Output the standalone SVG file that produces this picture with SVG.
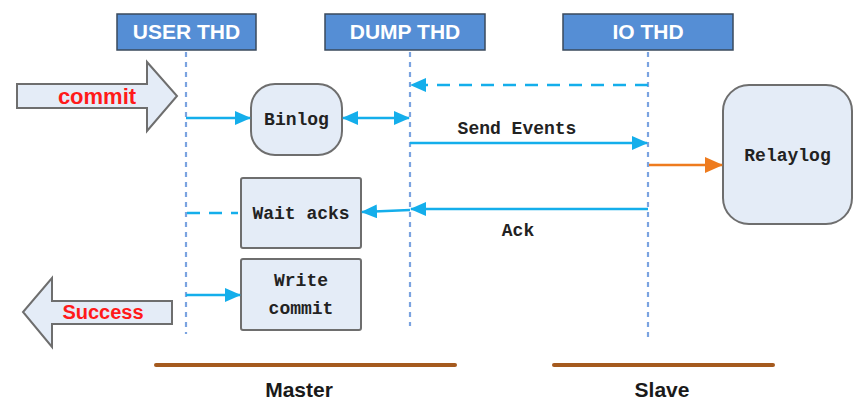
<svg xmlns="http://www.w3.org/2000/svg" width="866" height="412" viewBox="0 0 866 412">
<defs>
<style>
.hdr{fill:#558ED5;stroke:#3A4A5C;stroke-width:1.5}
.hdrt{font-family:"Liberation Sans",Arial,sans-serif;font-weight:bold;font-size:21px;fill:#FFFFFF;text-anchor:middle}
.life{stroke:#7BA3E0;stroke-width:2.2;stroke-dasharray:5 5;fill:none}
.box{fill:#E4ECF7;stroke:#6E6E6E;stroke-width:2}
.nt{font-family:"Liberation Mono","Courier New",monospace;font-weight:bold;font-size:18px;fill:#222;text-anchor:middle}
.msg{stroke:#14AEEB;stroke-width:2.5;fill:none}
.dash{stroke-dasharray:13 9}
.big{fill:#E4ECF7;stroke:#6E6E6E;stroke-width:2}
.red{font-family:"Liberation Sans",Arial,sans-serif;font-weight:bold;fill:#FF1A1A;text-anchor:middle}
.base{stroke:#A55A1E;stroke-width:4;stroke-linecap:round}
.lbl{font-family:"Liberation Sans",Arial,sans-serif;font-weight:bold;font-size:21px;fill:#1A1A1A;text-anchor:middle}
</style>
<marker id="ab" markerUnits="userSpaceOnUse" markerWidth="16" markerHeight="14" refX="15" refY="7" orient="auto-start-reverse"><path d="M0,0 L16,7 L0,14 Z" fill="#14AEEB"/></marker>
<marker id="ao" markerUnits="userSpaceOnUse" markerWidth="18" markerHeight="16" refX="17" refY="8" orient="auto"><path d="M0,0 L18,8 L0,16 Z" fill="#EE7B1E"/></marker>
</defs>

<g id="user-thd"><rect class="hdr" x="117" y="14" width="139" height="36"/><text class="hdrt" x="186.5" y="39">USER THD</text></g>
<g id="dump-thd"><rect class="hdr" x="325" y="14" width="160" height="36"/><text class="hdrt" x="405" y="39">DUMP THD</text></g>
<g id="io-thd"><rect class="hdr" x="563" y="14" width="170" height="36"/><text class="hdrt" x="648" y="39">IO THD</text></g>

<g id="lifelines">
<line class="life" x1="186" y1="52" x2="186" y2="334"/>
<line class="life" x1="410" y1="52" x2="410" y2="326"/>
<line class="life" x1="648" y1="52" x2="648" y2="340"/>
</g>

<g id="commit"><path class="big" d="M17,84 L147,84 L147,62 L177,96 L147,131 L147,108 L17,108 Z"/><text class="red" x="97" y="104" font-size="22">commit</text></g>
<g id="success"><path class="big" d="M172,301 L52,301 L52,278 L23,312 L52,347 L52,324 L172,324 Z"/><text class="red" x="103" y="319" font-size="20">Success</text></g>

<g id="binlog"><rect class="box" x="251" y="84" width="91" height="71" rx="24"/><text class="nt" x="296.5" y="125">Binlog</text></g>
<g id="relaylog"><rect class="box" x="723" y="85" width="129" height="139" rx="26"/><text class="nt" x="787.5" y="161">Relaylog</text></g>
<g id="wait-acks"><rect class="box" x="241" y="178" width="120" height="70" rx="2"/><text class="nt" x="301" y="219">Wait acks</text></g>
<g id="write-commit"><rect class="box" x="241" y="259" width="120" height="71" rx="2"/><text class="nt" x="301" y="286">Write</text><text class="nt" x="301" y="314">commit</text></g>

<g id="connectors">
<line class="msg" x1="186" y1="118" x2="250" y2="118" marker-end="url(#ab)"/>
<line class="msg" x1="343" y1="118" x2="409" y2="118" marker-start="url(#ab)" marker-end="url(#ab)"/>
<line class="msg dash" x1="648" y1="85" x2="411" y2="85" marker-end="url(#ab)"/>
<line class="msg" x1="410" y1="143" x2="647" y2="143" marker-end="url(#ab)"/>
<line x1="649" y1="165" x2="722" y2="165" stroke="#EE7B1E" stroke-width="2.5" marker-end="url(#ao)"/>
<line class="msg" x1="648" y1="209" x2="411" y2="209" marker-end="url(#ab)"/>
<line class="msg" x1="410" y1="210" x2="362" y2="212" marker-end="url(#ab)"/>
<line class="msg dash" x1="187" y1="213" x2="238" y2="213"/>
<line class="msg" x1="186" y1="295" x2="240" y2="295" marker-end="url(#ab)"/>
</g>

<g id="labels">
<text class="nt" x="517" y="134" font-weight="normal">Send Events</text>
<text class="nt" x="518" y="236" font-weight="normal">Ack</text>
</g>

<g id="groups">
<line class="base" x1="156" y1="365" x2="455" y2="365"/>
<line class="base" x1="554" y1="365" x2="773" y2="365"/>
<text class="lbl" x="299" y="397" font-size="22">Master</text>
<text class="lbl" x="662" y="397">Slave</text>
</g>
</svg>
